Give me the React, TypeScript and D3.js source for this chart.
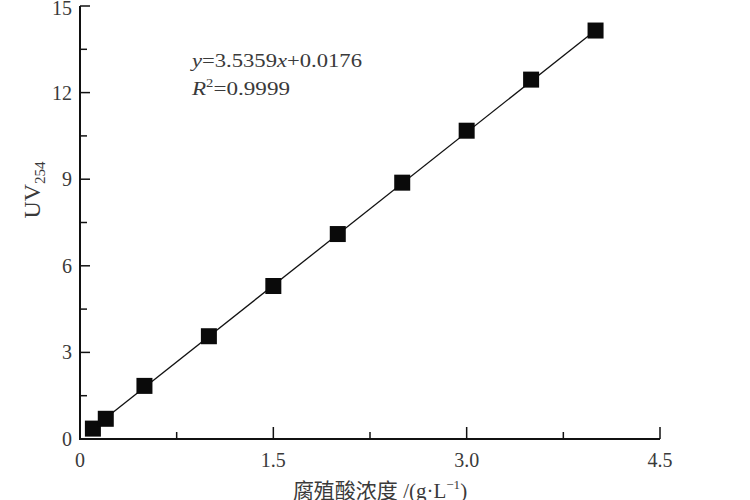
import React from "react";
import * as d3 from "d3";

const concentrations = [0.1, 0.2, 0.5, 1.0, 1.5, 2.0, 2.5, 3.0, 3.5, 4.0];
const uvValues = [0.36, 0.7, 1.84, 3.56, 5.3, 7.1, 8.88, 10.68, 12.45, 14.15];
const slope = 3.5359;
const intercept = 0.0176;
const xTicks = [0, 1.5, 3.0, 4.5];
const xMinorTicks = [0.75, 2.25, 3.75];
const yTicks = [0, 3, 6, 9, 12, 15];
const yMinorTicks = [1.5, 4.5, 7.5, 10.5, 13.5];

const W = 750;
const H = 500;
const serif = "'Liberation Serif', 'DejaVu Serif', serif";

export default function App() {
  const x = d3.scaleLinear().domain([0, 4.5]).range([80, 660]);
  const y = d3.scaleLinear().domain([0, 15]).range([439, 6]);
  const x0 = x(0);
  const y0 = y(0);
  const fitX = [concentrations[0], concentrations[concentrations.length - 1]];
  const line = d3
    .line<number>()
    .x((d) => x(d))
    .y((d) => y(slope * d + intercept));
  const sq = 16;
  const textColor = "#3a3a3a";
  return (
    <svg
      width={W}
      height={H}
      style={{ position: "absolute", left: 0, top: 0, background: "#fff" }}
    >
      <rect width={W} height={H} fill="#fff" />
      {/* axes */}
      <line x1={x0} x2={x0} y1={y(15)} y2={y0 + 1} stroke="#111" strokeWidth={2} />
      <line x1={x0 - 1} x2={x(4.5)} y1={y0} y2={y0} stroke="#111" strokeWidth={2} />
      {yTicks.map((t) => (
        <g key={"yt" + t}>
          {t > 0 && (
            <line x1={x0} x2={x0 + 10} y1={y(t)} y2={y(t)} stroke="#111" strokeWidth={1.5} />
          )}
          <text
            x={72}
            y={t === 15 ? y(t) + 2 : y(t)}
            dy="0.35em"
            textAnchor="end"
            fontFamily={serif}
            fontSize={20}
            fill={textColor}
          >
            {String(t)}
          </text>
        </g>
      ))}
      {yMinorTicks.map((t) => (
        <line key={"ym" + t} x1={x0} x2={x0 + 7} y1={y(t)} y2={y(t)} stroke="#111" strokeWidth={1.5} />
      ))}
      {xTicks.map((t) => (
        <g key={"xt" + t}>
          {t > 0 && (
            <line x1={x(t)} x2={x(t)} y1={y0} y2={y0 - 12} stroke="#111" strokeWidth={1.5} />
          )}
          <text
            x={x(t)}
            y={467}
            textAnchor="middle"
            fontFamily={serif}
            fontSize={20}
            fill={textColor}
          >
            {t === 0 ? "0" : t.toFixed(1)}
          </text>
        </g>
      ))}
      {xMinorTicks.map((t) => (
        <line key={"xm" + t} x1={x(t)} x2={x(t)} y1={y0} y2={y0 - 7} stroke="#111" strokeWidth={1.5} />
      ))}
      {/* fit line */}
      <path d={line(fitX) || ""} fill="none" stroke="#111" strokeWidth={1.3} />
      {/* points */}
      {concentrations.map((c, i) => (
        <rect
          key={"p" + i}
          x={x(c) - sq / 2}
          y={y(uvValues[i]) - sq / 2}
          width={sq}
          height={sq}
          fill="#0a0a0a"
        />
      ))}
      {/* equation */}
      <text
        x={192}
        y={67}
        fontFamily={serif}
        fontSize={19}
        fill={textColor}
        textLength={170}
        lengthAdjust="spacingAndGlyphs"
      >
        <tspan fontStyle="italic">y</tspan>
        <tspan>=3.5359</tspan>
        <tspan fontStyle="italic">x</tspan>
        <tspan>+0.0176</tspan>
      </text>
      <text
        x={192}
        y={95}
        fontFamily={serif}
        fontSize={19}
        fill={textColor}
        textLength={98}
        lengthAdjust="spacingAndGlyphs"
      >
        <tspan fontStyle="italic">R</tspan>
        <tspan fontSize={12} dy={-8}>2</tspan>
        <tspan dy={8}>=0.9999</tspan>
      </text>
      {/* y label */}
      <text
        transform={`translate(40, 190) rotate(-90)`}
        textAnchor="middle"
        fontFamily={serif}
        fontSize={24}
        fill={textColor}
      >
        <tspan>UV</tspan>
        <tspan fontSize={15} dy={5}>254</tspan>
      </text>
      {/* x label */}
      <text
        x={380}
        y={498}
        textAnchor="middle"
        fontFamily={serif}
        fontSize={21}
        fill={textColor}
      >
        <tspan fontFamily="'Noto Sans CJK SC', sans-serif">腐殖酸浓度</tspan>
        <tspan> /(g·L</tspan>
        <tspan fontSize={13} dy={-9}>−1</tspan>
        <tspan dy={9}>)</tspan>
      </text>
    </svg>
  );
}
